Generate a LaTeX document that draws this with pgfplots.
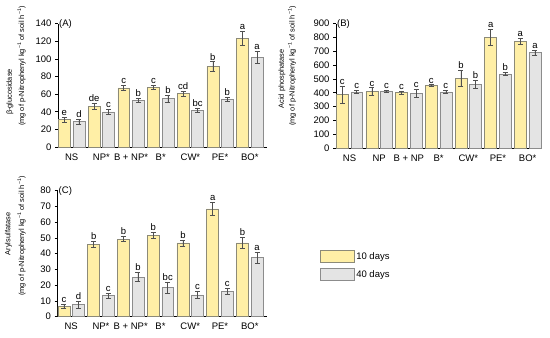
\documentclass[border=0pt]{standalone}
\usepackage{fontspec}
\setmainfont{Liberation Sans}
\usepackage{pgfplots}
\usepackage{pgfplotstable}
\pgfplotsset{compat=1.18}
\definecolor{yel}{HTML}{FFEFA6}
\definecolor{yeld}{HTML}{8C8A78}
\definecolor{gry}{HTML}{E4E4E4}
\definecolor{gryd}{HTML}{8C8C8C}
\definecolor{errc}{HTML}{505050}

\pgfplotstableread{
x y e l
0 31 2.5 e
1 46 3.6 de
2 67 3 c
3 68 2 c
4 60.5 3 cd
5 91.6 5.3 b
6 123.5 7.8 a
}\Ay
\pgfplotstableread{
x y e l
0 28.8 3 d
1 39.8 3 c
2 53.3 2 b
3 55 3.8 b
4 42 2.5 bc
5 54 2.5 b
6 102 7 a
}\Ag
\pgfplotstableread{
x y e l
0 387 60 c
1 410 27 c
2 401 13 c
3 452 7 c
4 505 60 b
5 800 58 a
6 772 24 a
}\By
\pgfplotstableread{
x y e l
0 406 13 c
1 410 10 c
2 397 30 c
3 406 13 c
4 462 28 b
5 537 12 b
6 690 20 a
}\Bg
\pgfplotstableread{
x y e l
0 6.6 1.5 c
1 45.9 2 b
2 49.3 1.7 b
3 51.6 2 b
4 46.8 2 b
5 68.4 4.2 a
6 46.8 3.6 b
}\Cy
\pgfplotstableread{
x y e l
0 7.6 2 d
1 13.5 1.5 c
2 25.2 3 b
3 18.4 3.7 bc
4 13.8 2.4 c
5 16.1 2 c
6 37.7 3.5 a
}\Cg

\newcommand{\fs}{\fontsize{9.5}{11}\selectfont}
\newcommand{\fl}{\fontsize{7.4}{8.5}\selectfont}

\pgfplotsset{
  myaxis/.style={
    scale only axis, ybar, bar width=0.4,
    axis lines*=left, axis line style={-, line width=0.8pt},
    ymin=0, xtick={0,...,6}, xtick style={draw=none},
    tick align=outside, major tick length=3pt,
    ytick style={line width=0.6pt, black},
    ticklabel style={font=\fs},
    /pgf/number format/assume math mode=true,
    clip=false,
  },
  barY/.style={fill=yel, draw=yeld, line width=0.5pt, bar shift=-0.245,
    error bars/.cd, y dir=both, y explicit,
    error bar style={errc, line width=0.6pt},
    error mark options={rotate=90, mark size=2.5pt, line width=0.6pt, errc}},
  barG/.style={fill=gry, draw=gryd, line width=0.5pt, bar shift=0.245,
    error bars/.cd, y dir=both, y explicit,
    error bar style={errc, line width=0.6pt},
    error mark options={rotate=90, mark size=2.5pt, line width=0.6pt, errc}},
  labs/.style={draw=none, fill=none, forget plot, bar shift=#1,
    nodes near coords, point meta=explicit symbolic,
    every node near coord/.append style={font=\fs, anchor=south, inner sep=1.3pt, text=black}},
}

\begin{document}
\begin{tikzpicture}
\useasboundingbox (0pt,0pt) rectangle (550pt,338pt);

% Panel A
\begin{axis}[myaxis, at={(58pt,191pt)}, anchor=south west,
  width=209pt, height=123.3pt, ymax=140, ytick distance=20,
  xmin=-0.46, xmax=6.58,
  xticklabels={NS, NP*, B + NP*, B*, CW*, PE*, BO*}]
\addplot[barY] table[x=x, y=y, y error=e]{\Ay};
\addplot[barG] table[x=x, y=y, y error=e]{\Ag};
\addplot[labs=-0.245] table[x=x, y expr=\thisrow{y}+\thisrow{e}, meta=l]{\Ay};
\addplot[labs=0.245] table[x=x, y expr=\thisrow{y}+\thisrow{e}, meta=l]{\Ag};
\node[font=\fs, anchor=west, inner sep=0pt] at (rel axis cs:0.005,1) {(A)};
\end{axis}

% Panel B
\begin{axis}[myaxis, at={(336pt,190pt)}, anchor=south west,
  width=205pt, height=124.3pt, ymax=900, ytick distance=100,
  xmin=-0.455, xmax=6.45,
  xticklabels={NS, NP, B + NP, B*, CW*, PE*, BO*}]
\addplot[barY] table[x=x, y=y, y error=e]{\By};
\addplot[barG] table[x=x, y=y, y error=e]{\Bg};
\addplot[labs=-0.245] table[x=x, y expr=\thisrow{y}+\thisrow{e}, meta=l]{\By};
\addplot[labs=0.245] table[x=x, y expr=\thisrow{y}+\thisrow{e}, meta=l]{\Bg};
\node[font=\fs, anchor=west, inner sep=0pt] at (rel axis cs:0.005,1) {(B)};
\end{axis}

% Panel C
\begin{axis}[myaxis, at={(57.5pt,21.3pt)}, anchor=south west,
  width=209.5pt, height=126pt, ymax=80, ytick distance=10,
  xmin=-0.46, xmax=6.58,
  xticklabels={NS, NP*, B + NP*, B*, CW*, PE*, BO*},
  legend style={at={(1.251,0.529)}, anchor=north west, draw=none, fill=none,
    font=\fs, row sep=5.5pt, inner sep=0pt, cells={anchor=west}},
  legend image code/.code={\draw[#1] (0pt,-6pt) rectangle (34pt,6pt);}]
\addplot[barY] table[x=x, y=y, y error=e]{\Cy};
\addplot[barG] table[x=x, y=y, y error=e]{\Cg};
\addplot[labs=-0.245] table[x=x, y expr=\thisrow{y}+\thisrow{e}, meta=l]{\Cy};
\addplot[labs=0.245] table[x=x, y expr=\thisrow{y}+\thisrow{e}, meta=l]{\Cg};
\node[font=\fs, anchor=west, inner sep=0pt] at (rel axis cs:0.005,1) {(C)};
\legend{10 days, 40 days}
\end{axis}

% y labels
\node[font=\fl, rotate=90] at (10pt,246pt) {β-glucosidase};
\node[font=\fl, rotate=90] at (21.5pt,272pt) {(mg of p-Nitrophenyl kg\textsuperscript{−1} of soil h\textsuperscript{−1})};
\node[font=\fl, rotate=90] at (282pt,259pt) {Acid phosphatase};
\node[font=\fl, rotate=90] at (292pt,272pt) {(mg of p-Nitrophenyl kg\textsuperscript{−1} of soil h\textsuperscript{−1})};
\node[font=\fl, rotate=90] at (8.5pt,104pt) {Arylsulfatase};
\node[font=\fl, rotate=90] at (21.5pt,102pt) {(mg of p-Nitrophenyl kg\textsuperscript{−1} of soil h\textsuperscript{−1})};
\end{tikzpicture}
\end{document}
